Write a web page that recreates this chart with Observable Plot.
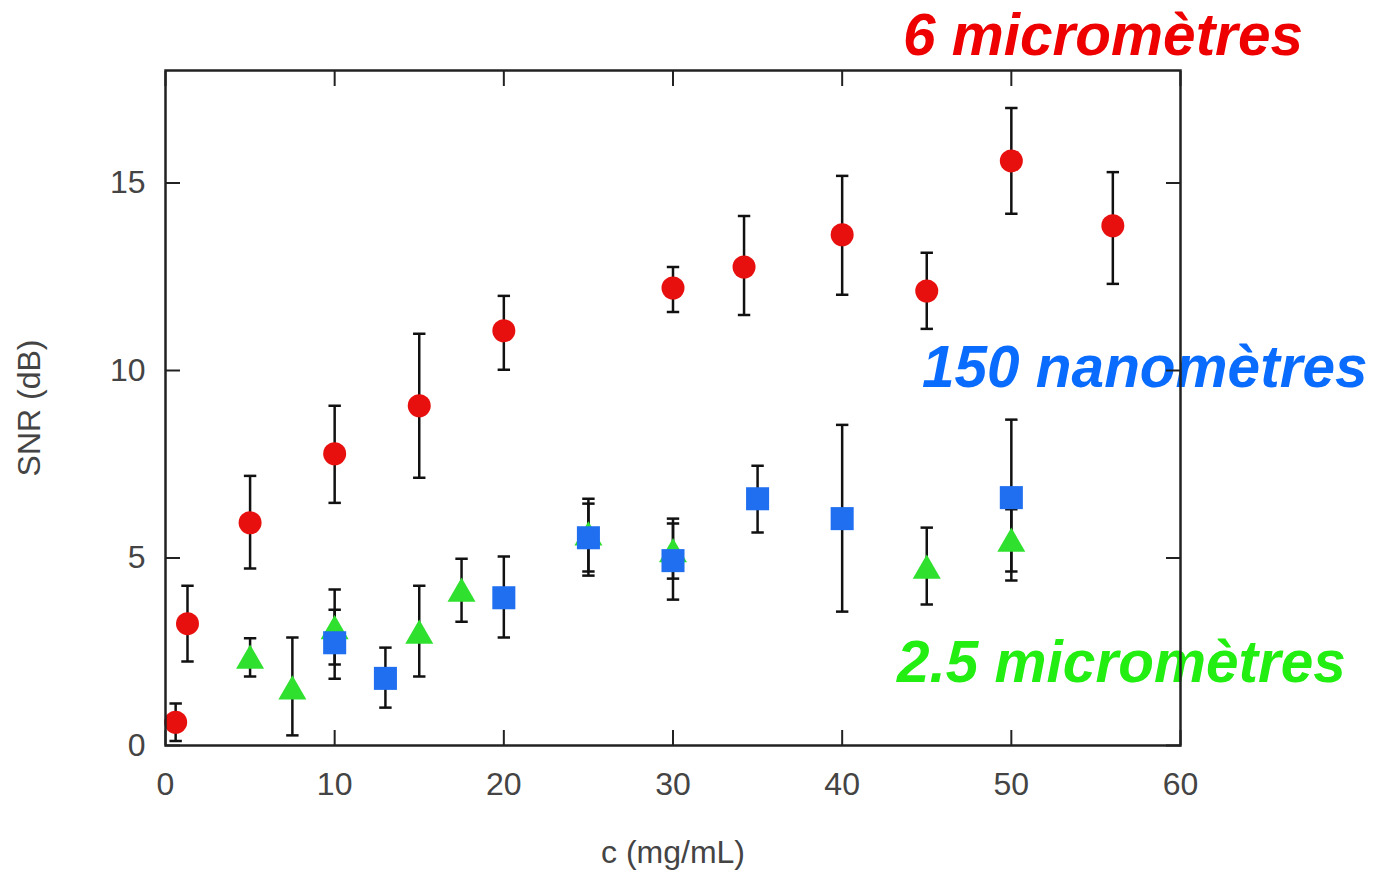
<!DOCTYPE html>
<html>
<head>
<meta charset="utf-8">
<script src="https://cdn.jsdelivr.net/npm/d3@7"></script>
<script src="https://cdn.jsdelivr.net/npm/@observablehq/plot@0.6"></script>
<style>
  html, body { margin: 0; padding: 0; background: white; }
  #wrap { position: relative; width: 1373px; height: 873px; overflow: hidden; }
  .lbl { position: absolute; font-family: "Liberation Sans", Arial, sans-serif; font-weight: bold; font-style: italic; font-size: 58.5px; line-height: 1; white-space: nowrap; z-index: 0; }
  #chart { position: absolute; left: 0; top: 0; z-index: 1; }
</style>
</head>
<body>
<div id="wrap">
  <div class="lbl" id="lblRed" style="left:903px; top:6px; color:#ee0000;">6 micromètres</div>
  <div class="lbl" id="lblBlue" style="left:922px; top:338px; color:#0a6cff;">150 nanomètres</div>
  <div class="lbl" id="lblGreen" style="left:897px; top:633px; color:#22ee11;">2.5 micromètres</div>
  <div id="chart"></div>
</div>
<script>
// 6 micrometres (red circles)
const redX  = [0.6, 1.3, 5, 10, 15, 20, 30, 34.2, 40, 45, 50, 56];
const redY  = [0.62, 3.25, 5.94, 7.78, 9.06, 11.06, 12.2, 12.76, 13.62, 12.12, 15.59, 13.86];
const redLo = [0.12, 2.24, 4.72, 6.47, 7.14, 10.02, 11.56, 11.48, 12.02, 11.11, 14.18, 12.31];
const redHi = [1.12, 4.26, 7.19, 9.06, 10.98, 11.99, 12.76, 14.12, 15.19, 13.14, 17.0, 15.29];

// 150 nanometres (blue squares)
const blueX  = [10, 13, 20, 25, 30, 35, 40, 50];
const blueY  = [2.74, 1.79, 3.94, 5.54, 4.93, 6.58, 6.05, 6.61];
const blueLo = [2.16, 1.01, 2.88, 4.53, 3.89, 5.68, 3.57, 4.40];
const blueHi = [3.62, 2.61, 5.04, 6.58, 6.05, 7.46, 8.55, 8.69];

// 2.5 micrometres (green triangles)
const greenX  = [5, 7.5, 10, 15, 17.5, 25, 30, 45, 50];
const greenY  = [2.26, 1.44, 3.05, 2.93, 4.05, 5.55, 5.1, 4.66, 5.38];
const greenLo = [1.84, 0.27, 1.78, 1.84, 3.30, 4.64, 4.45, 3.76, 4.64];
const greenHi = [2.86, 2.88, 4.16, 4.26, 4.98, 6.45, 5.92, 5.81, 6.30];

const xTicks = [0, 10, 20, 30, 40, 50, 60];
const yTicks = [0, 5, 10, 15];

const build = (xs, ys, lo, hi) => xs.map((x, i) => ({x, y: ys[i], lo: lo[i], hi: hi[i]}));
const red = build(redX, redY, redLo, redHi);
const blue = build(blueX, blueY, blueLo, blueHi);
const green = build(greenX, greenY, greenLo, greenHi);
const all = [...red, ...green, ...blue];

const capSymbol = {
  draw(context, size) {
    const w = Math.sqrt(size) / 2;
    context.moveTo(-w, 0);
    context.lineTo(w, 0);
  }
};

const chart = Plot.plot({
  width: 1373,
  height: 873,
  marginLeft: 165,
  marginRight: 193,
  marginTop: 70,
  marginBottom: 128,
  style: {fontFamily: "Liberation Sans, Arial, sans-serif", fontSize: "32px", background: "transparent", color: "#444"},
  x: {domain: [0, 60]},
  y: {domain: [0, 18]},
  marks: [
    Plot.axisX({anchor: "bottom", ticks: xTicks, tickSize: -15, tickPadding: 42, stroke: "#222", strokeWidth: 2, fill: "#444",
      label: "c (mg/mL)", labelAnchor: "center", labelOffset: 117, labelArrow: "none"}),
    Plot.axisX({anchor: "top", ticks: xTicks, tickSize: -15, tickFormat: () => "", stroke: "#222", strokeWidth: 2, label: null}),
    Plot.axisY({anchor: "left", ticks: yTicks, tickSize: -15, tickPadding: 35, stroke: "#222", strokeWidth: 2, fill: "#444",
      label: "SNR (dB)", labelAnchor: "center", labelOffset: 148, labelArrow: "none"}),
    Plot.axisY({anchor: "right", ticks: yTicks, tickSize: -15, tickFormat: () => "", stroke: "#222", strokeWidth: 2, label: null}),
    Plot.ruleX(all, {x: "x", y1: "lo", y2: "hi", stroke: "#111", strokeWidth: 2.5}),
    Plot.dot(all, {x: "x", y: "lo", symbol: capSymbol, r: 7, stroke: "#111", strokeWidth: 2.5, fill: "none"}),
    Plot.dot(all, {x: "x", y: "hi", symbol: capSymbol, r: 7, stroke: "#111", strokeWidth: 2.5, fill: "none"}),
    Plot.dot(green, {x: "x", y: "y", symbol: "triangle", r: 10.4, fill: "#2fe02f", stroke: "none"}),
    Plot.dot(blue, {x: "x", y: "y", symbol: "square", r: 13, fill: "#1f6ff0", stroke: "none"}),
    Plot.dot(red, {x: "x", y: "y", symbol: "circle", r: 11.5, fill: "#e8100e", stroke: "none"}),
    Plot.frame({stroke: "#222", strokeWidth: 2.5})
  ]
});
document.getElementById("chart").appendChild(chart);
</script>
</body>
</html>
